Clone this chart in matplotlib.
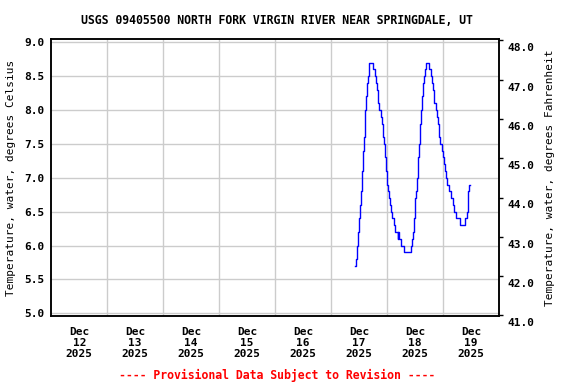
"""
USGS 09405500 water temperature plot, Dec 12-19 2025 (provisional data).
"""

import numpy as np
import matplotlib
matplotlib.use('Agg')
import matplotlib.pyplot as plt
import matplotlib.transforms as mtransforms

# --- DATA ---
# hours after 2025-12-17 00:00 where the reading changes, and the reading (deg C)
hours = [10.2, 10.8, 11.2, 11.6, 12.1, 12.5, 12.8, 13.2, 13.6, 14.1, 14.5, 14.9,
         15.4, 15.8, 16.2, 17.9, 18.9, 19.4, 19.8, 20.2, 20.6, 21.4, 21.8, 22.2,
         22.6, 23.2, 23.6, 24.1, 24.5, 24.9, 25.4, 25.8, 26.2, 26.8, 27.4, 28.6,
         28.8, 29.1, 29.9, 31.2, 34.2, 34.8, 35.2, 35.6, 36.1, 36.5, 36.9, 37.4,
         37.8, 38.2, 38.6, 39.1, 39.5, 39.9, 40.4, 40.8, 41.9, 42.8, 43.2, 43.8,
         44.2, 44.8, 45.4, 45.8, 46.4, 46.9, 47.5, 47.9, 48.4, 48.9, 49.4, 49.9,
         50.5, 51.4, 52.2, 52.8, 53.6, 55.2, 57.6, 58.1, 58.5, 58.9, 59.2, 59.6]
temp_c = [5.7, 5.8, 6.0, 6.2, 6.4, 6.6, 6.8, 7.1, 7.4, 7.6, 8.0, 8.2,
          8.4, 8.5, 8.7, 8.6, 8.5, 8.4, 8.3, 8.1, 8.0, 7.9, 7.8, 7.6,
          7.5, 7.3, 7.1, 6.9, 6.8, 6.7, 6.6, 6.5, 6.4, 6.3, 6.2, 6.1,
          6.2, 6.1, 6.0, 5.9, 6.0, 6.1, 6.2, 6.4, 6.7, 6.8, 7.0, 7.3,
          7.5, 7.8, 8.0, 8.2, 8.4, 8.5, 8.6, 8.7, 8.6, 8.5, 8.4, 8.3,
          8.1, 8.0, 7.9, 7.8, 7.6, 7.5, 7.4, 7.3, 7.2, 7.1, 7.0, 6.9,
          6.8, 6.7, 6.6, 6.5, 6.4, 6.3, 6.4, 6.5, 6.6, 6.8, 6.9, 6.9]

days = ['12', '13', '14', '15', '16', '17', '18', '19']
left_ticks = [5.0, 5.5, 6.0, 6.5, 7.0, 7.5, 8.0, 8.5, 9.0]
right_ticks = [41.0, 42.0, 43.0, 44.0, 45.0, 46.0, 47.0, 48.0]

title = 'USGS 09405500 NORTH FORK VIRGIN RIVER NEAR SPRINGDALE, UT'
footer = '---- Provisional Data Subject to Revision ----'

# --- PLOT ---
font = dict(family='DejaVu Sans Mono', weight='bold', size=8.3)
plt.rcParams['font.family'] = 'DejaVu Sans Mono'
plt.rcParams['font.weight'] = 'bold'
plt.rcParams['font.size'] = 8

fig = plt.figure(figsize=(5.76, 3.84), dpi=100)
ax = fig.add_axes([51.3 / 576, 1 - 315.7 / 384, (499 - 51.3) / 576, (315.7 - 39.3) / 384])

t0 = np.datetime64('2025-12-17T00:00')
times = t0 + (np.array(hours) * 60).astype('timedelta64[m]')
ax.plot(times, temp_c, color='#0000ff', lw=1, drawstyle='steps-post', zorder=3)

start = np.datetime64('2025-12-12T00:00')
ax.set_xlim(start, start + np.timedelta64(8, 'D'))
ax.set_ylim(4.965, 9.044)

noons = [start + np.timedelta64(12 + 24 * i, 'h') for i in range(len(days))]
midnights = [start + np.timedelta64(24 * i, 'h') for i in range(1, 8)]
ax.set_xticks(noons)
ax.set_xticklabels([f'Dec\n{d}\n2025' for d in days], linespacing=1.15)
ax.set_xticks(midnights, minor=True)
ax.tick_params(axis='x', which='both', length=0, pad=8)
ax.grid(True, axis='x', which='minor', color='#cccccc', lw=1)

ax.set_yticks(left_ticks)
ax.set_yticklabels([f'{v:.1f}' for v in left_ticks])
ax.tick_params(axis='y', length=0, pad=5)
ax.grid(True, axis='y', which='major', color='#cccccc', lw=1)
ax.set_ylabel('Temperature, water, degrees Celsius', labelpad=6)

for s in ax.spines.values():
    s.set_linewidth(1.1)

ax2 = ax.twinx()
ax2.set_ylim(40.99, 48.03)
ax2.set_yticks(right_ticks)
ax2.set_yticklabels([f'{v:.1f}' for v in right_ticks])
ax2.tick_params(axis='y', length=3, width=1, pad=3)
shift = mtransforms.ScaledTranslation(0, -5 / 72, fig.dpi_scale_trans)
for lbl in ax2.get_yticklabels():
    lbl.set_transform(lbl.get_transform() + shift)
ax2.set_ylabel('Temperature, water, degrees Fahrenheit', labelpad=8)
for s in ax2.spines.values():
    s.set_linewidth(1.1)

fig.text(277 / 576, 1 - 20 / 384, title, ha='center', va='center', **font)
fig.text(277 / 576, 1 - 375 / 384, footer, ha='center', va='center',
         color='#ff0000', **font)

fig.savefig('out.png', dpi=100)
